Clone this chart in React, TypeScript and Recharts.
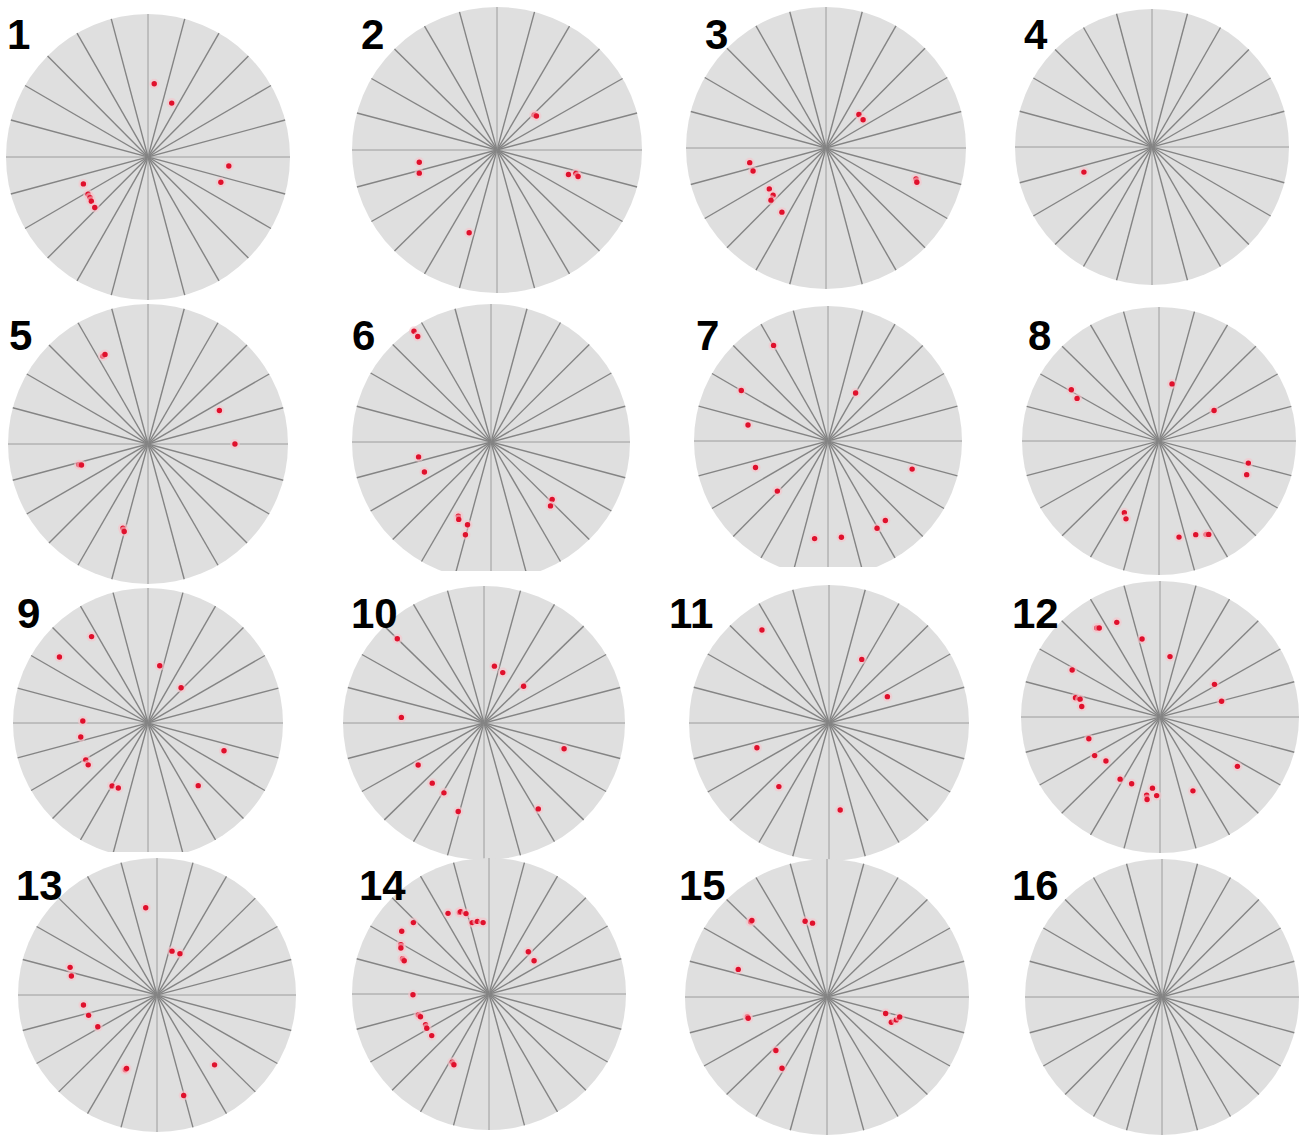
import React from "react";
import { ScatterChart, Scatter, XAxis, YAxis, ReferenceLine } from "recharts";

// points are [x, y] in units of the wheel radius (centre = 0,0)
const wheel1 = [[0.044, 0.512], [0.167, 0.377], [0.569, -0.063], [0.513, -0.177], [-0.455, -0.188], [-0.422, -0.26], [-0.408, -0.284], [-0.399, -0.309], [-0.375, -0.353]];
const wheel2 = [[0.257, 0.245], [0.272, 0.238], [-0.536, -0.086], [-0.536, -0.162], [0.493, -0.171], [0.544, -0.164], [0.559, -0.185], [-0.192, -0.579]];
const wheel3 = [[0.235, 0.238], [0.265, 0.2], [-0.545, -0.104], [-0.521, -0.163], [0.643, -0.219], [0.649, -0.243], [-0.405, -0.29], [-0.378, -0.335], [-0.393, -0.37], [-0.315, -0.455]];
const wheel4 = [[-0.497, -0.182]];
const wheel5 = [[-0.322, 0.628], [-0.307, 0.64], [0.51, 0.239], [0.621, 0.0], [-0.493, -0.148], [-0.475, -0.15], [-0.179, -0.601], [-0.17, -0.625]];
const wheel6 = [[-0.554, 0.802], [-0.527, 0.764], [-0.521, -0.108], [-0.479, -0.217], [-0.235, -0.537], [-0.232, -0.561], [-0.169, -0.6], [-0.184, -0.672], [0.44, -0.417], [0.428, -0.463]];
const wheel7 = [[-0.406, 0.708], [-0.647, 0.374], [0.206, 0.356], [-0.597, 0.119], [0.628, -0.208], [-0.541, -0.196], [-0.378, -0.371], [0.428, -0.589], [0.366, -0.646], [-0.1, -0.723], [0.1, -0.713]];
const wheel8 = [[-0.64, 0.383], [-0.598, 0.318], [0.095, 0.426], [0.402, 0.228], [0.652, -0.165], [0.64, -0.251], [-0.253, -0.536], [-0.241, -0.581], [0.146, -0.717], [0.268, -0.699], [0.345, -0.697], [0.363, -0.697]];
const wheel9 = [[-0.418, 0.64], [-0.656, 0.489], [0.087, 0.424], [0.245, 0.261], [-0.483, 0.015], [-0.498, -0.104], [-0.461, -0.273], [-0.443, -0.31], [0.563, -0.206], [-0.266, -0.466], [-0.22, -0.481], [0.372, -0.464]];
const wheel10 = [[-0.615, 0.615], [0.074, 0.415], [0.133, 0.368], [0.281, 0.268], [-0.586, 0.041], [0.568, -0.188], [-0.467, -0.307], [-0.367, -0.439], [-0.284, -0.51], [-0.183, -0.646], [0.385, -0.627]];
const wheel11 = [[-0.479, 0.674], [0.234, 0.461], [0.417, 0.191], [-0.515, -0.179], [-0.358, -0.461], [0.08, -0.63]];
const wheel12 = [[-0.455, 0.654], [-0.437, 0.654], [-0.311, 0.696], [-0.129, 0.573], [0.072, 0.444], [-0.632, 0.346], [0.392, 0.24], [0.443, 0.116], [-0.608, 0.141], [-0.575, 0.131], [-0.563, 0.077], [-0.512, -0.16], [-0.47, -0.284], [-0.389, -0.323], [0.557, -0.363], [-0.287, -0.457], [-0.204, -0.491], [-0.054, -0.523], [-0.096, -0.575], [-0.024, -0.578], [-0.093, -0.607], [0.237, -0.543]];
const wheel13 = [[-0.081, 0.637], [0.108, 0.32], [0.165, 0.302], [-0.625, 0.202], [-0.616, 0.139], [-0.529, -0.073], [-0.492, -0.149], [-0.426, -0.232], [-0.228, -0.546], [-0.219, -0.537], [0.414, -0.51], [0.192, -0.734]];
const wheel14 = [[-0.299, 0.593], [-0.216, 0.6], [-0.207, 0.605], [-0.168, 0.591], [-0.122, 0.525], [-0.085, 0.534], [-0.043, 0.525], [-0.552, 0.525], [-0.637, 0.461], [-0.643, 0.363], [-0.643, 0.338], [-0.631, 0.26], [-0.619, 0.245], [-0.555, -0.005], [-0.515, -0.154], [-0.5, -0.167], [-0.463, -0.225], [-0.454, -0.252], [-0.418, -0.306], [-0.268, -0.502], [-0.256, -0.52], [0.287, 0.311], [0.329, 0.245]];
const wheel15 = [[-0.538, 0.545], [-0.529, 0.554], [-0.154, 0.549], [-0.102, 0.535], [-0.625, 0.2], [-0.561, -0.142], [-0.555, -0.154], [-0.36, -0.388], [-0.317, -0.516], [0.413, -0.12], [0.453, -0.183], [0.488, -0.166], [0.512, -0.145]];
const wheel16: number[][] = [];

const wheels = [wheel1, wheel2, wheel3, wheel4, wheel5, wheel6, wheel7, wheel8, wheel9, wheel10, wheel11, wheel12, wheel13, wheel14, wheel15, wheel16];
const labels = ["1", "2", "3", "4", "5", "6", "7", "8", "9", "10", "11", "12", "13", "14", "15", "16"];
const spokeAngles = [0, 15, 30, 45, 60, 75, 90, 105, 120, 135, 150, 165];

// where each wheel sits on the page (px)
const layout = [
  { cx: 148, cy: 157, rx: 142, ry: 143, lx: 7, ly: 49 },
  { cx: 497, cy: 150, rx: 145, ry: 143, lx: 361, ly: 49 },
  { cx: 826, cy: 148, rx: 140, ry: 141, lx: 705, ly: 49 },
  { cx: 1152, cy: 147, rx: 137, ry: 138, lx: 1024, ly: 49 },
  { cx: 148, cy: 444, rx: 140, ry: 140, lx: 9, ly: 350 },
  { cx: 491, cy: 442, rx: 139, ry: 138, lx: 352, ly: 350, clipBottom: 571 },
  { cx: 828, cy: 441, rx: 134, ry: 135, lx: 696, ly: 350, clipBottom: 567 },
  { cx: 1159, cy: 441, rx: 137, ry: 134, lx: 1028, ly: 350, clipBottom: 576 },
  { cx: 148, cy: 723, rx: 135, ry: 135, lx: 17, ly: 628, clipBottom: 852 },
  { cx: 484, cy: 723, rx: 141, ry: 137, lx: 351, ly: 628 },
  { cx: 829, cy: 723, rx: 140, ry: 138, lx: 669, ly: 628 },
  { cx: 1160, cy: 717, rx: 139, ry: 136, lx: 1012, ly: 628, clipTop: 581 },
  { cx: 157, cy: 995, rx: 139, ry: 137, lx: 16, ly: 900 },
  { cx: 489, cy: 994, rx: 137, ry: 136, lx: 359, ly: 900 },
  { cx: 827, cy: 997, rx: 142, ry: 138, lx: 679, ly: 900 },
  { cx: 1162, cy: 997, rx: 137, ry: 138, lx: 1012, ly: 900 },
];

const PAD = 4;

const RedDot = (props: any) => {
  const { cx, cy } = props;
  if (cx == null || cy == null) return null;
  return (
    <g>
      <circle cx={cx} cy={cy} r={5} fill="#f6c4cb" opacity={0.6} />
      <circle cx={cx} cy={cy} r={2.7} fill="#e0102c" />
    </g>
  );
};

function Wheel({ i }: { i: number }) {
  const L: any = layout[i];
  const w = 2 * L.rx + 2 * PAD;
  const h = 2 * L.ry + 2 * PAD;
  const left = L.cx - L.rx - PAD;
  const top = L.cy - L.ry - PAD;
  const ct = L.clipTop ? Math.max(0, L.clipTop - top) : 0;
  const cb = L.clipBottom ? Math.max(0, top + h - L.clipBottom) : 0;
  const data = wheels[i].map(([x, y]) => ({ x, y }));

  return (
    <div
      style={{
        position: "absolute",
        left,
        top,
        width: w,
        height: h,
        clipPath: `inset(${ct}px 0px ${cb}px 0px)`,
      }}
    >
      <div
        style={{
          position: "absolute",
          left: PAD,
          top: PAD,
          width: 2 * L.rx,
          height: 2 * L.ry,
          borderRadius: "50%",
          background: "#dfdfdf",
        }}
      />
      <div style={{ position: "absolute", left: 0, top: 0 }}>
        <ScatterChart width={w} height={h} margin={{ top: PAD, right: PAD, bottom: PAD, left: PAD }}>
          <XAxis dataKey="x" type="number" domain={[-1, 1]} hide allowDataOverflow />
          <YAxis dataKey="y" type="number" domain={[-1, 1]} hide allowDataOverflow />
          {spokeAngles.map(a => {
            const c = Math.cos((a * Math.PI) / 180);
            const s = Math.sin((a * Math.PI) / 180);
            const axisLine = a % 90 === 0;
            return (
              <ReferenceLine
                key={a}
                segment={[{ x: c, y: s }, { x: -c, y: -s }]}
                stroke={axisLine ? "#9c9c9c" : "#848484"}
                strokeWidth={axisLine ? 1 : 1.4}
                ifOverflow="visible"
              />
            );
          })}
          <Scatter data={data} shape={RedDot} isAnimationActive={false} />
        </ScatterChart>
      </div>
    </div>
  );
}

export default function App() {
  return (
    <div style={{ position: "relative", width: 1305, height: 1137, background: "#fff", overflow: "hidden" }}>
      <style>{`body{margin:0}`}</style>
      {layout.map((_, i) => (
        <Wheel key={i} i={i} />
      ))}
      {labels.map((t, i) => (
        <div
          key={t}
          style={{
            position: "absolute",
            left: layout[i].lx,
            top: layout[i].ly - 35.5,
            fontFamily: "'Liberation Sans', Arial, sans-serif",
            fontWeight: 700,
            fontSize: 42,
            lineHeight: "42px",
            color: "#000",
          }}
        >
          {t}
        </div>
      ))}
    </div>
  );
}
